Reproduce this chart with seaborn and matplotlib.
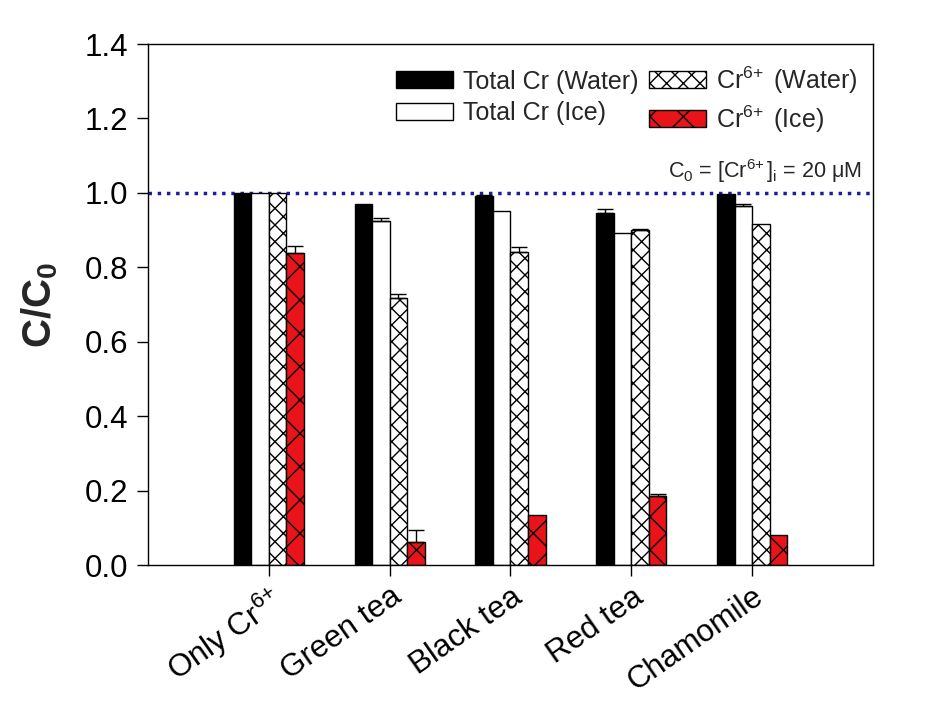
import numpy as np
import pandas as pd
import matplotlib
matplotlib.use("Agg")
import matplotlib.pyplot as plt
import seaborn as sns

# Data
categories = ["Only Cr$^{6\\!+}$", "Green tea", "Black tea", "Red tea", "Chamomile"]
series = ["Total Cr (Water)", "Total Cr (Ice)", "Cr$^{6\\!+}$ (Water)", "Cr$^{6\\!+}$ (Ice)"]

total_water = [1.0, 0.970, 0.992, 0.947, 0.997]
total_ice = [1.0, 0.924, 0.950, 0.893, 0.966]
cr6_water = [1.0, 0.718, 0.840, 0.900, 0.916]
cr6_ice = [0.838, 0.062, 0.135, 0.185, 0.082]

total_water_err = [0.0, 0.0, 0.003, 0.010, 0.0]
total_ice_err = [0.0, 0.009, 0.0, 0.0, 0.005]
cr6_water_err = [0.0, 0.010, 0.015, 0.003, 0.0]
cr6_ice_err = [0.020, 0.032, 0.0, 0.005, 0.0]

values = [total_water, total_ice, cr6_water, cr6_ice]
errors = [total_water_err, total_ice_err, cr6_water_err, cr6_ice_err]

colors = ["black", "white", "white", "#e8141a"]
hatches = [None, None, "xx", "x"]


def main():
    df = pd.DataFrame({
        "category": np.repeat([categories], len(series), axis=0).ravel(),
        "series": np.repeat(series, len(categories)),
        "value": np.concatenate(values),
    })

    sns.set_style("ticks")
    plt.rcParams["font.family"] = ["Liberation Sans", "DejaVu Sans"]
    plt.rcParams["mathtext.fontset"] = "custom"
    plt.rcParams["mathtext.rm"] = "Liberation Sans"
    plt.rcParams["mathtext.it"] = "Liberation Sans:italic"
    plt.rcParams["mathtext.bf"] = "Liberation Sans:bold"
    plt.rcParams["hatch.linewidth"] = 1.0

    fig = plt.figure(figsize=(9.39, 7.04), dpi=100)
    ax = fig.add_axes([0.1576, 0.1974, 0.7721, 0.7401])

    sns.barplot(data=df, x="category", y="value", hue="series",
                palette=colors, width=0.58, errorbar=None,
                edgecolor="black", linewidth=1.0, saturation=1,
                legend=False, ax=ax)

    # hatches + one-sided error bars
    for cont, hatch, err in zip(ax.containers, hatches, errors):
        xs, tops, errs = [], [], []
        for bar, e in zip(cont, err):
            if hatch:
                bar.set_hatch(hatch)
            if e > 0:
                xs.append(bar.get_x() + bar.get_width() / 2)
                tops.append(bar.get_height())
                errs.append(e)
        if xs:
            ax.errorbar(xs, tops, yerr=[np.zeros(len(errs)), errs], fmt="none",
                        ecolor="black", elinewidth=1.0, capsize=5.5, capthick=1.0)

    # reference line C0
    ax.axhline(1.0, color="#1c1c9c", linestyle=":", linewidth=2.5, zorder=0.5)
    ax.text(0.985, 1.022, r"C$_0$ = [Cr$^{6\!+}$]$_\mathrm{i}$ = 20 $\mathrm{\mu}$M",
            transform=ax.get_yaxis_transform(), ha="right", va="bottom",
            fontsize=15.5)

    ax.set_xlim(-1.0, 5.0)
    ax.set_ylim(0, 1.4)
    ax.set_yticks(np.arange(0, 1.41, 0.2))
    ax.set_yticklabels([f"{v:.1f}" for v in np.arange(0, 1.41, 0.2)])
    ax.tick_params(axis="both", direction="out", length=8, width=1.0,
                   colors="black")
    ax.tick_params(axis="y", labelsize=22.5, pad=6)
    ax.tick_params(axis="x", labelsize=22.5, pad=4)
    plt.setp(ax.get_xticklabels(), rotation=35, ha="right",
             rotation_mode="anchor")

    ax.set_xlabel("")
    ax.set_ylabel("C/C$_\\mathbf{0}$", fontsize=29, fontweight="bold", labelpad=18)

    for side in ["top", "right", "left", "bottom"]:
        ax.spines[side].set_visible(True)
        ax.spines[side].set_color("black")
        ax.spines[side].set_linewidth(1.0)

    ax.legend(ax.containers, series, ncol=2, loc="upper right",
              bbox_to_anchor=(1.0, 0.99), frameon=False, fontsize=18,
              handlelength=2.3, handleheight=0.65, handletextpad=0.4,
              columnspacing=0.4, labelspacing=0.3, borderaxespad=0.2)

    fig.savefig("out.png", dpi=100)


if __name__ == "__main__":
    main()
